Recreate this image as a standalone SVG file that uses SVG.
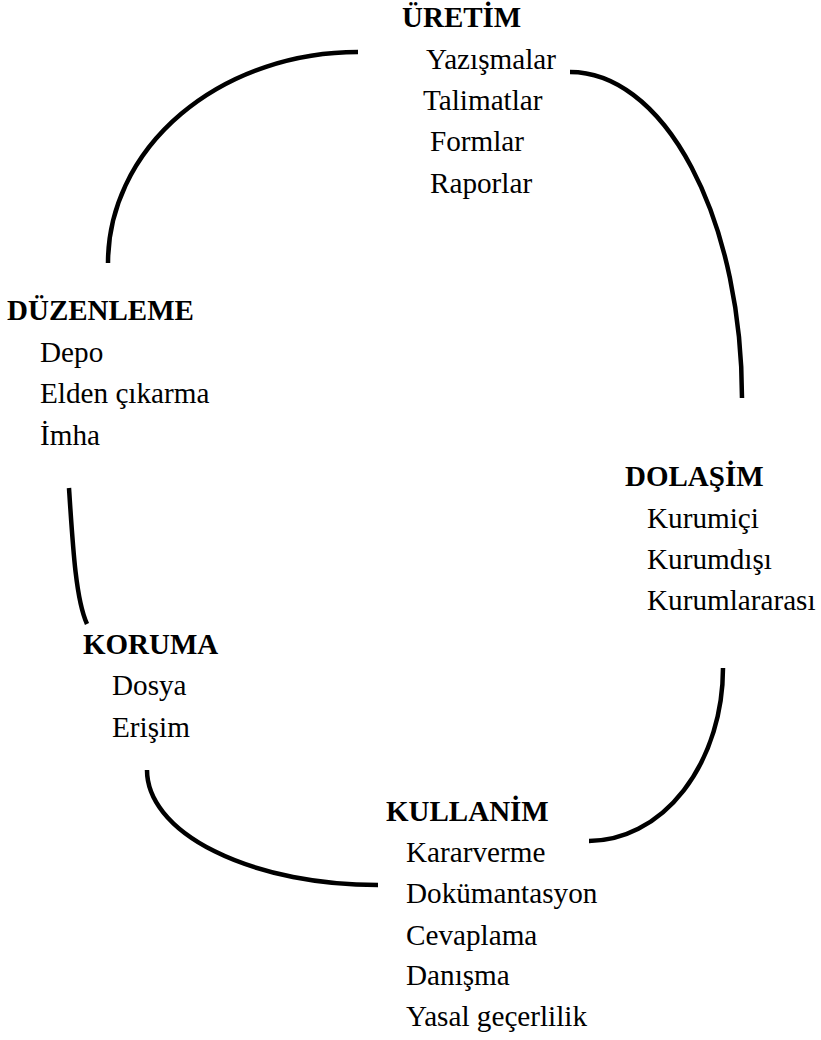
<svg xmlns="http://www.w3.org/2000/svg" width="821" height="1040" viewBox="0 0 821 1040">
<style>
.h{font-family:"Liberation Serif","Times New Roman",serif;font-weight:bold;font-size:29px;fill:#000}
.t{font-family:"Liberation Serif","Times New Roman",serif;font-size:29.2px;fill:#000}
.c{fill:none;stroke:#000;stroke-width:4.5;stroke-linecap:butt}
</style>
<rect width="821" height="1040" fill="#fff"/>
<g id="connectors">
<path class="c" d="M108,263 A250,211 0 0 1 358,52"/>
<path class="c" d="M570,72 A172,326 0 0 1 742,398"/>
<path class="c" d="M723,668 A134,173 0 0 1 589,841"/>
<path class="c" d="M378,885 A231,115 0 0 1 147,770"/>
<path class="c" d="M69,488 C73,550 76,600 87,624"/>
</g>
<g id="uretim">
<text class="h" x="402" y="27">ÜRETİM</text>
<text class="t" x="426" y="69">Yazışmalar</text>
<text class="t" x="423" y="110">Talimatlar</text>
<text class="t" x="430" y="151">Formlar</text>
<text class="t" x="430" y="193">Raporlar</text>
</g>
<g id="duzenleme">
<text class="h" x="7" y="320">DÜZENLEME</text>
<text class="t" x="40" y="362">Depo</text>
<text class="t" x="40" y="403">Elden çıkarma</text>
<text class="t" x="40" y="445">İmha</text>
</g>
<g id="dolasim">
<text class="h" x="625" y="486">DOLAŞİM</text>
<text class="t" x="647" y="528">Kurumiçi</text>
<text class="t" x="647" y="569">Kurumdışı</text>
<text class="t" x="647" y="610">Kurumlararası</text>
</g>
<g id="koruma">
<text class="h" x="83" y="654">KORUMA</text>
<text class="t" x="112" y="695">Dosya</text>
<text class="t" x="112" y="737">Erişim</text>
</g>
<g id="kullanim">
<text class="h" x="386" y="821">KULLANİM</text>
<text class="t" x="406" y="862">Kararverme</text>
<text class="t" x="406" y="903">Dokümantasyon</text>
<text class="t" x="406" y="945">Cevaplama</text>
<text class="t" x="406" y="985">Danışma</text>
<text class="t" x="406" y="1026">Yasal geçerlilik</text>
</g>
</svg>
